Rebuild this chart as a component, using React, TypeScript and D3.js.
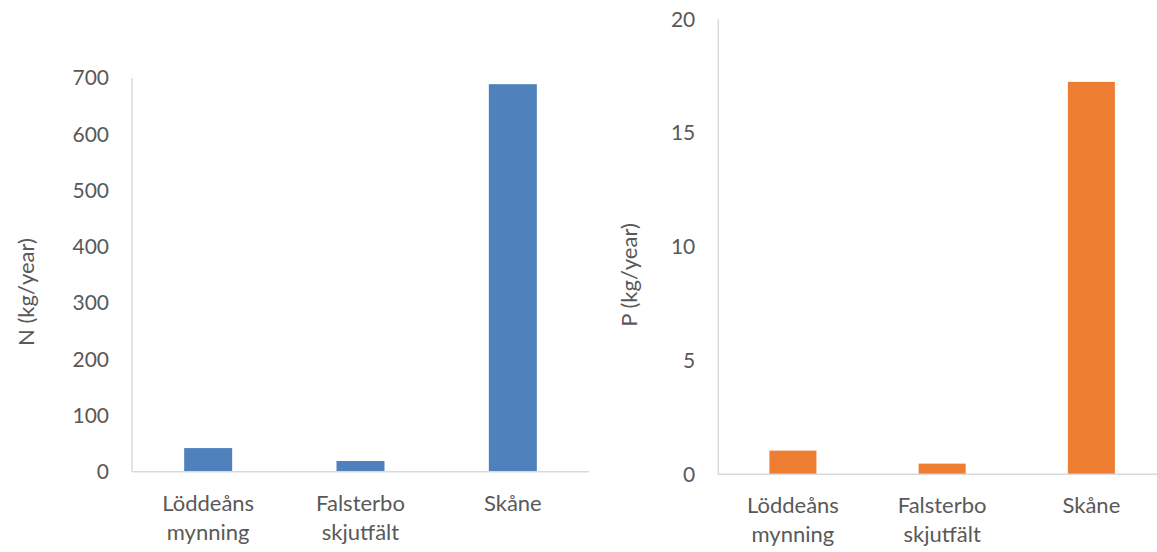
import { useMemo } from 'react'
import * as d3 from 'd3'

const categories = [['Löddeåns', 'mynning'], ['Falsterbo', 'skjutfält'], ['Skåne']]
const categoryKeys = ['Löddeåns mynning', 'Falsterbo skjutfält', 'Skåne']
const nValues = [42, 19, 689]
const pValues = [1.04, 0.47, 17.25]
const nTicks = [0, 100, 200, 300, 400, 500, 600, 700]
const pTicks = [0, 5, 10, 15, 20]

const FONT = 'Lato, "Open Sans", sans-serif'
const TEXT = '#595959'
const AXIS = '#d9d9d9'
const TICK_FS = 21
const LABEL_FS = 22

interface PanelProps {
  left: number
  right: number
  top: number
  bottom: number
  values: number[]
  ticks: number[]
  max: number
  color: string
  title: string
  titleX: number
  titleY: number
}

const Panel = ({ left, right, top, bottom, values, ticks, max, color, title, titleX, titleY }: PanelProps) => {
  const { x, y } = useMemo(() => {
    const xScale = d3
      .scaleBand<string>()
      .domain(categoryKeys)
      .range([left, right])
      .paddingInner(0.685)
      .paddingOuter(0.3425)
    const yScale = d3.scaleLinear().domain([0, max]).range([bottom, top])
    return { x: xScale, y: yScale }
  }, [left, right, top, bottom, max])

  return (
    <g fontFamily={FONT}>
      {values.map((v, i) => (
        <rect
          key={categoryKeys[i]}
          x={x(categoryKeys[i])}
          y={y(v)}
          width={x.bandwidth()}
          height={bottom - y(v)}
          fill={color}
        />
      ))}
      <line x1={left} x2={left} y1={top} y2={bottom} stroke={AXIS} strokeWidth={1.5} />
      <line x1={left} x2={right} y1={bottom} y2={bottom} stroke={AXIS} strokeWidth={1.5} />
      <g fontSize={TICK_FS} fill={TEXT} textAnchor="end">
        {ticks.map((t) => (
          <text key={t} x={left - 23} y={y(t)} dy="0.35em">
            {t}
          </text>
        ))}
      </g>
      <g fontSize={LABEL_FS} fill={TEXT} textAnchor="middle">
        {categories.map((lines, i) => {
          const cx = (x(categoryKeys[i]) ?? 0) + x.bandwidth() / 2
          return (
            <text key={categoryKeys[i]} x={cx} y={bottom + 39}>
              {lines.map((l, j) => (
                <tspan key={l} x={cx} y={bottom + 39 + j * 29}>
                  {l}
                </tspan>
              ))}
            </text>
          )
        })}
      </g>
      <text
        transform={`translate(${titleX},${titleY}) rotate(-90)`}
        textAnchor="middle"
        fontSize={LABEL_FS}
        fill={TEXT}
      >
        {title}
      </text>
    </g>
  )
}

export default function App() {
  return (
    <svg
      width={1157}
      height={552}
      style={{ position: 'absolute', left: 0, top: 0, display: 'block', background: '#fff' }}
    >
      <Panel
        left={132}
        right={589}
        top={78}
        bottom={471.7}
        values={nValues}
        ticks={nTicks}
        max={700}
        color="#4f81bd"
        title="N (kg/year)"
        titleX={34}
        titleY={292}
      />
      <Panel
        left={718.3}
        right={1166}
        top={19.3}
        bottom={474.3}
        values={pValues}
        ticks={pTicks}
        max={20}
        color="#ed7d31"
        title="P (kg/year)"
        titleX={637}
        titleY={275}
      />
    </svg>
  )
}
